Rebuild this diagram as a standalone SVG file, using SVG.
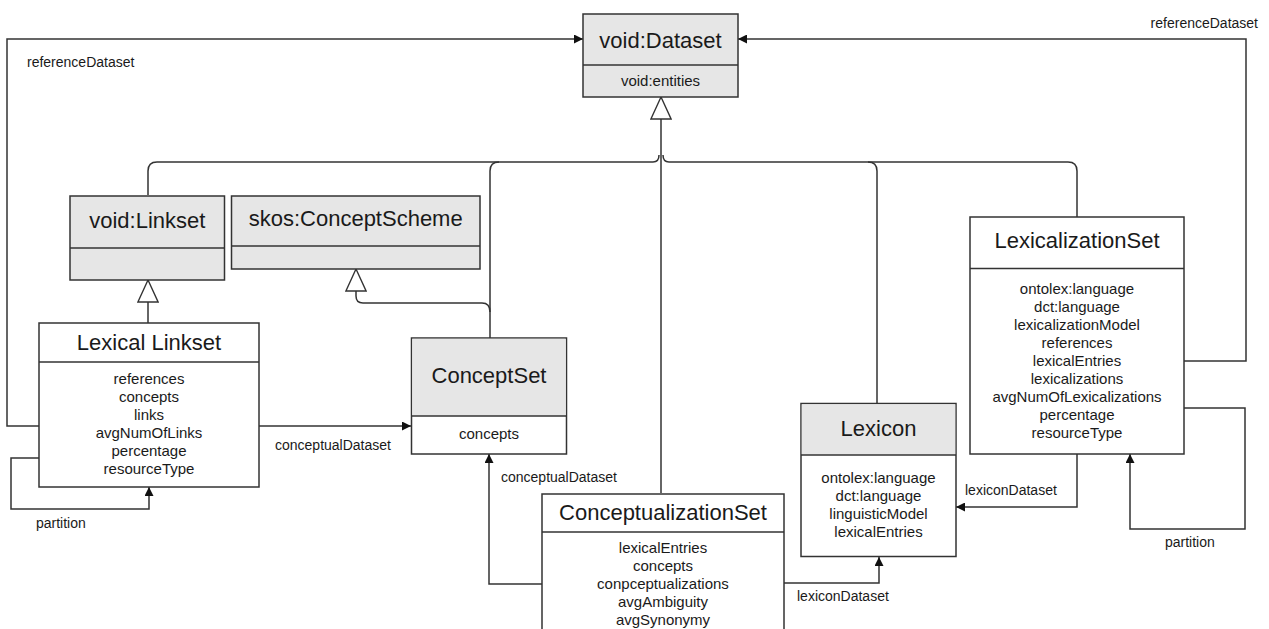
<svg xmlns="http://www.w3.org/2000/svg" width="1269" height="629" viewBox="0 0 1269 629">
<style>
.box{fill:#fff;stroke:#333;stroke-width:1.5}
.hd{fill:#e6e6e6;stroke:#333;stroke-width:1.5}
.ln{fill:none;stroke:#333;stroke-width:1.5}
.t{font-family:"Liberation Sans",Arial,sans-serif;fill:#1a1a1a;text-anchor:middle}
.title{font-size:22px}
.attr{font-size:15px}
.lbl{font-family:"Liberation Sans",Arial,sans-serif;fill:#1a1a1a;font-size:14px}
</style>
<defs>
<marker id="arr" viewBox="0 0 10 10" refX="10" refY="5" markerWidth="9" markerHeight="9" markerUnits="userSpaceOnUse" orient="auto">
<path d="M0,0 L10,5 L0,10 z" fill="#111"/>
</marker>
<marker id="gen" viewBox="0 0 24 24" refX="24" refY="12" markerWidth="24" markerHeight="22" markerUnits="userSpaceOnUse" orient="auto">
<path d="M0,1 L24,12 L0,23 z" fill="#fff" stroke="#333" stroke-width="1.5"/>
</marker>
</defs>

<g id="connectors">
<!-- generalization bus to void:Dataset -->
<path class="ln" d="M661,493 V97" marker-end="url(#gen)"/>
<path class="ln" d="M148,195 V171 Q148,162 157,162 H653 Q659,162 659,155"/>
<path class="ln" d="M1077,217 V171 Q1077,162 1068,162 H669 Q663,162 663,155"/>
<path class="ln" d="M490,338 V171 Q490,162 499,162"/>
<path class="ln" d="M877,403 V171 Q877,162 868,162"/>
<!-- Lexical Linkset -> void:Linkset -->
<path class="ln" d="M148,323 V280" marker-end="url(#gen)"/>
<!-- ConceptSet -> skos:ConceptScheme -->
<path class="ln" d="M490,312 Q490,303 482,303 H363 Q356,303 356,296 V269" marker-end="url(#gen)"/>
<!-- referenceDataset left -->
<path class="ln" d="M39,426 H7 V39 H583" marker-end="url(#arr)"/>
<!-- referenceDataset right -->
<path class="ln" d="M1184,361 H1246 V39 H738" marker-end="url(#arr)"/>
<!-- conceptualDataset LL -> CS -->
<path class="ln" d="M259,426 H411" marker-end="url(#arr)"/>
<!-- partition LL -->
<path class="ln" d="M39,458 H11 V509 H149 V487" marker-end="url(#arr)"/>
<!-- conceptualDataset CzS -> CS -->
<path class="ln" d="M542,584 H489 V454" marker-end="url(#arr)"/>
<!-- lexiconDataset CzS -> Lexicon -->
<path class="ln" d="M784,583 H879 V557" marker-end="url(#arr)"/>
<!-- lexiconDataset LzS -> Lexicon -->
<path class="ln" d="M1077,454 V507 H956" marker-end="url(#arr)"/>
<!-- partition LzS -->
<path class="ln" d="M1184,408 H1245 V529 H1130 V454" marker-end="url(#arr)"/>
<text class="lbl" x="27" y="67">referenceDataset</text>
<text class="lbl" x="1258" y="28" text-anchor="end">referenceDataset</text>
<text class="lbl" x="275" y="450">conceptualDataset</text>
<text class="lbl" x="36" y="528">partition</text>
<text class="lbl" x="501" y="482">conceptualDataset</text>
<text class="lbl" x="797" y="601">lexiconDataset</text>
<text class="lbl" x="965" y="495">lexiconDataset</text>
<text class="lbl" x="1165" y="547">partition</text>
</g>

<g id="void-dataset">
<rect class="hd" x="583" y="14" width="155" height="83"/>
<line class="ln" x1="583" y1="65" x2="738" y2="65"/>
<text class="t title" x="660.5" y="48">void:Dataset</text>
<text class="t attr" x="660.5" y="86">void:entities</text>
</g>

<g id="void-linkset">
<rect class="hd" x="70" y="196" width="154.5" height="84"/>
<line class="ln" x1="70" y1="248" x2="224.5" y2="248"/>
<text class="t title" x="147.3" y="228">void:Linkset</text>
</g>

<g id="skos-conceptscheme">
<rect class="hd" x="231.5" y="196" width="248.5" height="73"/>
<line class="ln" x1="231.5" y1="246" x2="480" y2="246"/>
<text class="t title" x="355.7" y="226">skos:ConceptScheme</text>
</g>

<g id="lexical-linkset">
<rect class="box" x="39" y="323" width="220" height="164"/>
<line class="ln" x1="39" y1="362" x2="259" y2="362"/>
<text class="t title" x="149" y="350">Lexical Linkset</text>
<text class="t attr" x="149" y="383.5">references</text>
<text class="t attr" x="149" y="401.5">concepts</text>
<text class="t attr" x="149" y="419.5">links</text>
<text class="t attr" x="149" y="437.5">avgNumOfLinks</text>
<text class="t attr" x="149" y="455.5">percentage</text>
<text class="t attr" x="149" y="473.5">resourceType</text>
</g>

<g id="conceptset">
<rect class="box" x="411.5" y="338" width="155" height="116"/>
<rect x="412.25" y="338.75" width="153.5" height="77" fill="#e6e6e6"/>
<line class="ln" x1="411.5" y1="416" x2="566.5" y2="416"/>
<text class="t title" x="489" y="383">ConceptSet</text>
<text class="t attr" x="489" y="439">concepts</text>
</g>

<g id="conceptualizationset">
<rect class="box" x="542" y="494" width="242" height="150"/>
<line class="ln" x1="542" y1="532" x2="784" y2="532"/>
<text class="t title" x="663" y="520">ConceptualizationSet</text>
<text class="t attr" x="663" y="552.5">lexicalEntries</text>
<text class="t attr" x="663" y="570.5">concepts</text>
<text class="t attr" x="663" y="588.5">conpceptualizations</text>
<text class="t attr" x="663" y="606.5">avgAmbiguity</text>
<text class="t attr" x="663" y="624.5">avgSynonymy</text>
</g>

<g id="lexicon">
<rect class="box" x="801" y="403.5" width="155" height="153"/>
<rect x="801.75" y="404.25" width="153.5" height="50.5" fill="#e6e6e6"/>
<line class="ln" x1="801" y1="455" x2="956" y2="455"/>
<text class="t title" x="878.5" y="436">Lexicon</text>
<text class="t attr" x="878.5" y="483">ontolex:language</text>
<text class="t attr" x="878.5" y="501">dct:language</text>
<text class="t attr" x="878.5" y="519">linguisticModel</text>
<text class="t attr" x="878.5" y="537">lexicalEntries</text>
</g>

<g id="lexicalizationset">
<rect class="box" x="970" y="217" width="214" height="237"/>
<line class="ln" x1="970" y1="268.5" x2="1184" y2="268.5"/>
<text class="t title" x="1077" y="248">LexicalizationSet</text>
<text class="t attr" x="1077" y="293.5">ontolex:language</text>
<text class="t attr" x="1077" y="311.5">dct:language</text>
<text class="t attr" x="1077" y="329.5">lexicalizationModel</text>
<text class="t attr" x="1077" y="347.5">references</text>
<text class="t attr" x="1077" y="365.5">lexicalEntries</text>
<text class="t attr" x="1077" y="383.5">lexicalizations</text>
<text class="t attr" x="1077" y="401.5">avgNumOfLexicalizations</text>
<text class="t attr" x="1077" y="419.5">percentage</text>
<text class="t attr" x="1077" y="437.5">resourceType</text>
</g>
</svg>
